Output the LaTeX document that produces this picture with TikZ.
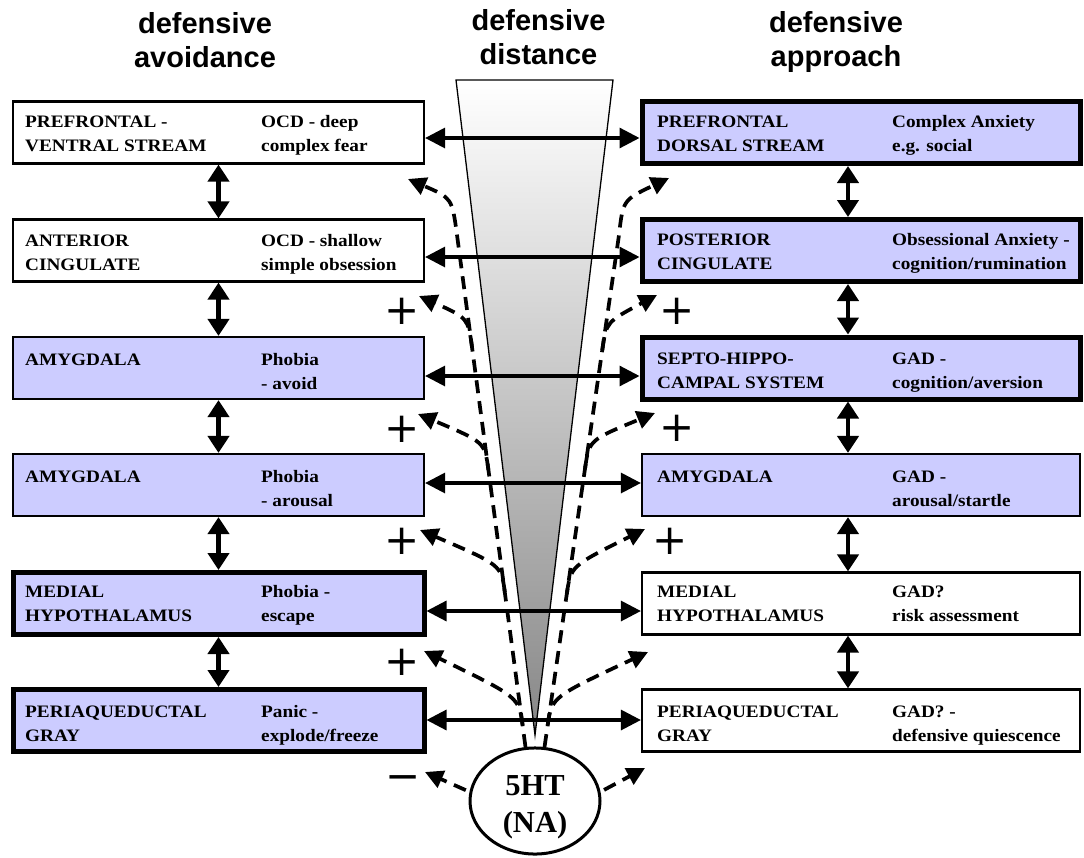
\documentclass[tikz,border=0pt]{standalone}
\usepackage{fontspec}
\setmainfont{Liberation Serif}
\newfontfamily\boxfont[FakeStretch=1.1]{Liberation Serif}
\newfontfamily\titlefont{Liberation Sans}
\newfontfamily\signfont{DejaVu Sans}
\usetikzlibrary{arrows.meta,shapes.geometric}
\definecolor{boxblue}{RGB}{204,204,255}
\newcommand{\bt}[2]{\rule{0pt}{12.5pt}#1\\#2}
\begin{document}
\begin{tikzpicture}[x=1pt,y=-1pt,
  lbox/.style={draw, line width=2.2pt, minimum width=411pt, minimum height=62pt, inner sep=0pt},
  rbox/.style={draw, line width=2.2pt, minimum width=438pt, minimum height=62pt, inner sep=0pt},
  heavy/.style={line width=5pt},
  blue/.style={fill=boxblue},
  white/.style={fill=white},
  txt/.style={anchor=north west, inner sep=0pt, align=left, font=\boxfont\bfseries\fontsize{17.5}{24}\selectfont},
  ttl/.style={anchor=north, inner sep=0pt, align=center, font=\titlefont\bfseries\fontsize{29}{34}\selectfont},
  harrow/.style={line width=3.2pt, {Triangle[length=20pt,width=20pt]}-{Triangle[length=20pt,width=20pt]}},
  varrow/.style={line width=4.5pt, {Triangle[length=17pt,width=21pt]}-{Triangle[length=17pt,width=21pt]}},
  darrow/.style={line width=3.7pt, dash pattern=on 13pt off 8pt, -{Triangle[length=18pt,width=18pt]}},
  sign/.style={inner sep=0pt, font=\signfont\fontsize{42}{42}\selectfont}
]
\useasboundingbox (0,0) rectangle (1084,857);

% titles
\node[ttl] (T1) at (205,12) {\rule{0pt}{21pt}defensive\\avoidance};
\node[ttl] (T2) at (538.5,9) {\rule{0pt}{21pt}defensive\\distance};
\node[ttl] (T3) at (836,11) {\rule{0pt}{21pt}defensive\\approach};

% funnel
\shadedraw[top color=white, middle color=black!14, bottom color=black!47, draw=black, line width=1.3pt]
  (456,80) -- (613,80) -- (535,735) -- cycle;

% boxes
\node[lbox, white] (L1) at (218.5,132.5) {};
\node[lbox, white] (L2) at (218.5,250.5) {};
\node[lbox, blue] (L3) at (218.5,368) {};
\node[lbox, blue] (L4) at (218.5,485) {};
\node[lbox, blue, heavy] (L5) at (218.5,603.5) {};
\node[lbox, blue, heavy] (L6) at (218.5,720.5) {};
\node[rbox, blue, heavy] (R1) at (861,132.5) {};
\node[rbox, blue, heavy] (R2) at (861,250.5) {};
\node[rbox, blue, heavy] (R3) at (861,368) {};
\node[rbox, blue] (R4) at (861,485) {};
\node[rbox, white] (R5) at (861,603.5) {};
\node[rbox, white] (R6) at (861,720.5) {};

% box texts
\node[txt] (L1a) at (25,114.5) {\bt{PREFRONTAL -}{VENTRAL STREAM}};
\node[txt] (L1b) at (261,114.5) {\bt{OCD - deep}{complex fear}};
\node[txt] (L2a) at (25,233.5) {\bt{ANTERIOR}{CINGULATE}};
\node[txt] (L2b) at (261,233.5) {\bt{OCD - shallow}{simple obsession}};
\node[txt] (L3a) at (25,352.5) {\bt{AMYGDALA}{}};
\node[txt] (L3b) at (261,352.5) {\bt{Phobia}{- avoid}};
\node[txt] (L4a) at (25,469.5) {\bt{AMYGDALA}{}};
\node[txt] (L4b) at (261,469.5) {\bt{Phobia}{- arousal}};
\node[txt] (L5a) at (25,584.5) {\bt{MEDIAL}{HYPOTHALAMUS}};
\node[txt] (L5b) at (261,584.5) {\bt{Phobia -}{escape}};
\node[txt] (L6a) at (25,704.5) {\bt{PERIAQUEDUCTAL}{GRAY}};
\node[txt] (L6b) at (261,704.5) {\bt{Panic -}{explode/freeze}};

\node[txt] (R1a) at (657,114.5) {\bt{PREFRONTAL}{DORSAL STREAM}};
\node[txt] (R1b) at (892,114.5) {\bt{Complex Anxiety}{e.g. social}};
\node[txt] (R2a) at (657,232.5) {\bt{POSTERIOR}{CINGULATE}};
\node[txt] (R2b) at (892,232.5) {\bt{Obsessional Anxiety -}{cognition/rumination}};
\node[txt] (R3a) at (657,351.5) {\bt{SEPTO-HIPPO-}{CAMPAL SYSTEM}};
\node[txt] (R3b) at (892,351.5) {\bt{GAD -}{cognition/aversion}};
\node[txt] (R4a) at (657,469.5) {\bt{AMYGDALA}{}};
\node[txt] (R4b) at (892,469.5) {\bt{GAD -}{arousal/startle}};
\node[txt] (R5a) at (657,584.5) {\bt{MEDIAL}{HYPOTHALAMUS}};
\node[txt] (R5b) at (892,584.5) {\bt{GAD?}{risk assessment}};
\node[txt] (R6a) at (657,704.5) {\bt{PERIAQUEDUCTAL}{GRAY}};
\node[txt] (R6b) at (892,704.5) {\bt{GAD? -}{defensive quiescence}};

% 5HT ellipse
\node[draw, ellipse, line width=3pt, fill=white, minimum width=130pt, minimum height=106pt,
      inner sep=0pt, align=center, font=\bfseries\fontsize{30.5}{37}\selectfont]
  (E) at (535,801) {\rule{0pt}{31.5pt}5HT\\(NA)};

% dashed coordinates
\coordinate (LT) at (457,235);  \coordinate (LC) at (452,198);
\coordinate (RT) at (619,235);  \coordinate (RC) at (623,200);
\coordinate (tL1) at (408,179); \coordinate (tR1) at (669,178);
\coordinate (tL2) at (419,296); \coordinate (tR2) at (657,295);
\coordinate (tL3) at (418,414); \coordinate (tR3) at (655,413);
\coordinate (tL4) at (420,530); \coordinate (tR4) at (645,529);
\coordinate (tL5) at (424,651); \coordinate (tR5) at (648,652);
\coordinate (tL6) at (425,772); \coordinate (tR6) at (645,768);
\coordinate (sL2) at (472.1,348); \coordinate (cL2) at (468.1,318);
\coordinate (sL3) at (488.4,470); \coordinate (cL3) at (484.7,442);
\coordinate (sL4) at (504.8,592); \coordinate (cL4) at (501.2,565);
\coordinate (sL5) at (522.6,725); \coordinate (cL5) at (518.8,697);
\coordinate (sR2) at (602.3,350); \coordinate (cR2) at (606.3,322);
\coordinate (sR3) at (585.1,468); \coordinate (cR3) at (589.2,440);
\coordinate (sR4) at (566.8,594); \coordinate (cR4) at (570.8,566);
\coordinate (sR5) at (547.7,725); \coordinate (cR5) at (551.8,697);

% dashed arrows
\draw[darrow] (E.100) -- (LT) .. controls (LC) .. (tL1);
\draw[darrow] (E.80) -- (RT) .. controls (RC) .. (tR1);
\draw[darrow] (sL2) .. controls (cL2) .. (tL2);
\draw[darrow] (sL3) .. controls (cL3) .. (tL3);
\draw[darrow] (sL4) .. controls (cL4) .. (tL4);
\draw[darrow] (sL5) .. controls (cL5) .. (tL5);
\draw[darrow] (sR2) .. controls (cR2) .. (tR2);
\draw[darrow] (sR3) .. controls (cR3) .. (tR3);
\draw[darrow] (sR4) .. controls (cR4) .. (tR4);
\draw[darrow] (sR5) .. controls (cR5) .. (tR5);
\draw[darrow, shorten <=4pt] (E.172) -- (tL6);
\draw[darrow, shorten <=4pt] (E.8) -- (tR6);

% horizontal arrows
\draw[harrow] ([yshift=-5.5pt]L1.east) -- ([yshift=-5.5pt]R1.west);
\draw[harrow] ([yshift=-6.5pt]L2.east) -- ([yshift=-6.5pt]R2.west);
\draw[harrow] ([yshift=-8pt]L3.east) -- ([yshift=-8pt]R3.west);
\draw[harrow] ([yshift=2pt]L4.east) -- ([yshift=2pt]R4.west);
\draw[harrow] ([yshift=-7.5pt]L5.east) -- ([yshift=-7.5pt]R5.west);
\draw[harrow] ([yshift=0.5pt]L6.east) -- ([yshift=0.5pt]R6.west);

% vertical arrows
\draw[varrow] (L1.south) -- (L2.north);
\draw[varrow] (L2.south) -- (L3.north);
\draw[varrow] (L3.south) -- (L4.north);
\draw[varrow] (L4.south) -- (L5.north);
\draw[varrow] (L5.south) -- (L6.north);
\draw[varrow] ([xshift=-13pt]R1.south) -- ([xshift=-13pt]R2.north);
\draw[varrow] ([xshift=-13pt]R2.south) -- ([xshift=-13pt]R3.north);
\draw[varrow] ([xshift=-13pt]R3.south) -- ([xshift=-13pt]R4.north);
\draw[varrow] ([xshift=-13pt]R4.south) -- ([xshift=-13pt]R5.north);
\draw[varrow] ([xshift=-13pt]R5.south) -- ([xshift=-13pt]R6.north);

% signs
\node[sign] (pL2) at (402,311) {+};
\node[sign] (pL3) at (402,429) {+};
\node[sign] (pL4) at (402,541) {+};
\node[sign] (pL5) at (402,662) {+};
\node[sign] (mL6) at (403,783) {−};
\node[sign] (pR2) at (677,311) {+};
\node[sign] (pR3) at (677,428) {+};
\node[sign] (pR4) at (670,541) {+};
\end{tikzpicture}
\end{document}
